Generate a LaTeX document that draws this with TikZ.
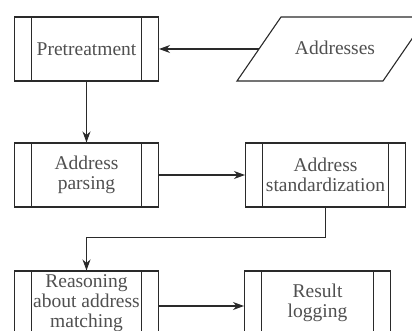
\documentclass[tikz,border=0pt]{standalone}
\usepackage{fontspec}
\setmainfont{Liberation Serif}
\usetikzlibrary{arrows.meta}
\definecolor{linec}{HTML}{2A2A2A}
\definecolor{textc}{HTML}{505050}
\tikzset{
  procbox/.style={draw=linec, line width=1.1pt, rectangle, inner sep=0pt,
    minimum height=64pt, text=textc, align=center,
    font=\fontsize{19.5}{20}\selectfont,
    path picture={
      \draw[linec, line width=1.1pt]
        ([xshift=17pt]path picture bounding box.north west) -- ([xshift=17pt]path picture bounding box.south west)
        ([xshift=-17pt]path picture bounding box.north east) -- ([xshift=-17pt]path picture bounding box.south east);
    }},
  conn/.style={draw=linec, line width=1.1pt, -{Stealth[length=11pt,width=8pt]}},
  lbl/.style={text=textc, inner sep=0pt, font=\fontsize{19.5}{20}\selectfont}
}
\begin{document}
\begin{tikzpicture}[x=1pt,y=-1pt]
\useasboundingbox (0,0) rectangle (412,331);
\clip (0,0) rectangle (412,331);
\fill[white] (0,0) rectangle (412,331);
% parallelogram
\draw[linec, line width=1.1pt] (237,81) -- (383,81) -- (427,17) -- (281,17) -- cycle;
\coordinate (addl) at (259,49);
\node[lbl] (addr) at (335,48) {Addresses};
\node[procbox, minimum width=144pt] (pre) at (86.5,49) {Pretreatment};
\node[procbox, minimum width=144pt] (parse) at (86.5,175) {Address\\parsing};
\node[procbox, minimum width=160pt] (std) at (325.5,175) {Address\\standardization};
\node[procbox, minimum width=144pt] (rea) at (86.5,303) {Reasoning\\about address\\matching};
\node[procbox, minimum width=146pt] (res) at (317.5,303) {Result\\logging};
\draw[conn] (addl) -- (pre.east);
\draw[conn] (pre.south) -- (parse.north);
\draw[conn] (parse.east) -- (std.west);
\draw[conn] (std.south) -- ++(0,30) -| (rea.north);
\draw[conn] ([yshift=-3pt]rea.east) -- ([yshift=-3pt]res.west);
\end{tikzpicture}
\end{document}
